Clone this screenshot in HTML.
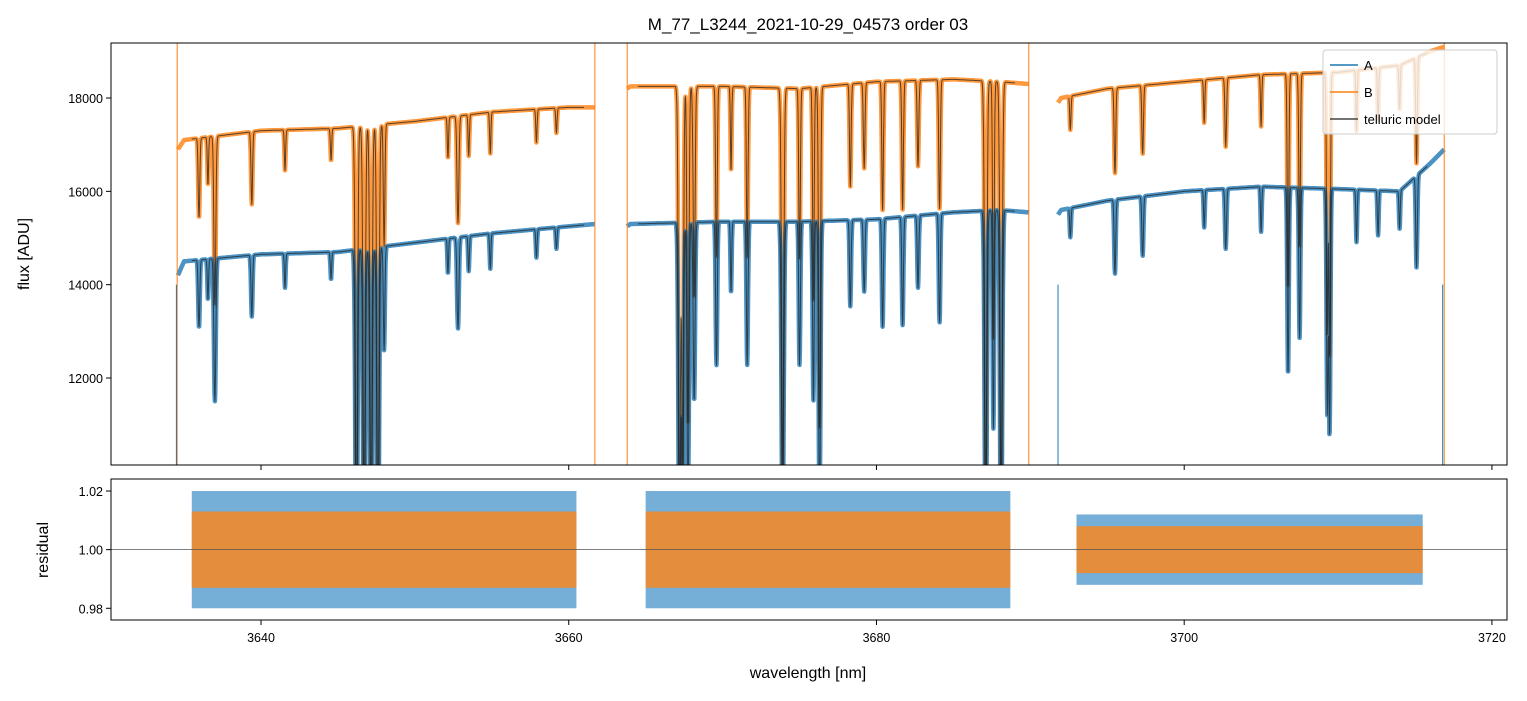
<!DOCTYPE html>
<html><head><meta charset="utf-8"><style>
body{margin:0;background:#fff;}
svg{font-family:"Liberation Sans","DejaVu Sans",sans-serif;}
</style></head><body>
<svg id="c" width="1527" height="696" xmlns="http://www.w3.org/2000/svg">
<defs>
<clipPath id="ct"><rect x="111" y="43" width="1396" height="422"/></clipPath>
<clipPath id="cb"><rect x="111" y="479" width="1396" height="141"/></clipPath>
</defs>
<rect width="1527" height="696" fill="#fff"/>
<text x="808" y="30" text-anchor="middle" font-size="17">M_77_L3244_2021-10-29_04573  order 03</text>
<g id="topg" clip-path="url(#ct)"></g>
<g id="botg" clip-path="url(#cb)"></g>
<g id="axesg"></g>
<text x="29" y="254" transform="rotate(-90 29 254)" text-anchor="middle" font-size="16">flux [ADU]</text>
<text x="48" y="550" transform="rotate(-90 48 550)" text-anchor="middle" font-size="16">residual</text>
<text x="808" y="678" text-anchor="middle" font-size="16">wavelength [nm]</text>
<g id="legend">
<rect x="1323" y="50" width="174" height="84" rx="3" fill="#fff" fill-opacity="0.8" stroke="#ccc"/>
<line x1="1330" y1="65" x2="1358" y2="65" stroke="#1f77b4" stroke-width="1.5"/>
<text x="1364" y="70" font-size="13">A</text>
<line x1="1330" y1="92" x2="1358" y2="92" stroke="#ff7f0e" stroke-width="1.5"/>
<text x="1364" y="97" font-size="13">B</text>
<line x1="1330" y1="119" x2="1358" y2="119" stroke="#444" stroke-width="1.5"/>
<text x="1364" y="124" font-size="13">telluric model</text>
</g>
</svg>
<script>
// ---- data ----
const segments = [[3634.6,3661.7],[3663.8,3689.9],[3691.8,3716.9]];
const modelSegments = [[3635.5,3661.0],[3664.5,3689.0],[3692.5,3715.8]];
const contWave = [3634.6,3635,3640,3645,3650,3655,3660,3661.7,3663.8,3664,3670,3675,3680,3685,3688,3689.9,3691.8,3692,3695,3700,3705,3710,3714,3716,3716.9];
const contA    = [14200,14500,14650,14700,14900,15100,15250,15300,15250,15300,15350,15350,15400,15550,15600,15550,15500,15600,15800,16000,16100,16050,16000,16600,16900];
const contB    = [16900,17100,17300,17350,17500,17700,17800,17800,18200,18250,18250,18200,18350,18400,18350,18300,17900,18000,18200,18350,18500,18550,18700,19000,19100];
const lineWave  = [3635.97,3636.55,3637.0,3639.4,3641.56,3644.55,3646.2,3646.7,3647.15,3647.6,3648.0,3652.15,3652.8,3653.5,3654.9,3657.9,3659.2,3667.2,3667.4,3667.75,3668.15,3669.6,3670.55,3671.6,3673.9,3675.0,3675.9,3676.3,3678.3,3679.2,3680.4,3681.7,3682.7,3684.1,3687.1,3687.6,3688.1,3692.6,3695.5,3697.3,3701.3,3702.7,3705.0,3706.75,3707.5,3709.3,3709.45,3711.2,3712.6,3714.0,3715.1];
const lineDepth = [0.1,0.06,0.21,0.09,0.05,0.04,0.5,0.5,0.5,0.5,0.15,0.05,0.13,0.05,0.05,0.04,0.03,0.5,0.45,0.4,0.25,0.2,0.1,0.2,0.45,0.2,0.25,0.4,0.12,0.1,0.15,0.15,0.1,0.15,0.5,0.3,0.5,0.04,0.1,0.08,0.05,0.08,0.06,0.25,0.2,0.3,0.33,0.07,0.06,0.05,0.12];
const lineWidth = [0.05,0.04,0.06,0.05,0.04,0.04,0.07,0.07,0.07,0.07,0.05,0.04,0.06,0.04,0.04,0.04,0.04,0.07,0.06,0.06,0.06,0.05,0.04,0.05,0.07,0.05,0.05,0.06,0.05,0.05,0.05,0.05,0.05,0.05,0.07,0.05,0.07,0.04,0.05,0.05,0.04,0.05,0.04,0.05,0.05,0.05,0.05,0.04,0.04,0.04,0.05];
const edgeSpikesB = [3634.55,3661.7,3663.8,3689.9,3716.9];
const edgeSpikesA = [3634.5,3691.8,3716.8];
const resSegments = [[3635.5,3660.5],[3665.0,3688.7],[3693.0,3715.5]];
const resAmpA = [0.02,0.02,0.012];
const resAmpB = [0.013,0.013,0.008];
const xTicks = [3640,3660,3680,3700,3720];
const yTicks = [12000,14000,16000,18000];
const rTicks = [0.98,1.00,1.02];
// ---- scales ----
const X=w=>111+(w-3630.25)*(1396/(3720.98-3630.25));
const Y=v=>43+(19179-v)*(422/(19179-10136));
const R=v=>479+(1.0241-v)*(141/(1.0241-0.976));
const NS='http://www.w3.org/2000/svg';
function mk(tag,attrs,parent){const e=document.createElementNS(NS,tag);for(const k in attrs)e.setAttribute(k,attrs[k]);parent.appendChild(e);return e;}
function interp(xs,ys,x){if(x<=xs[0])return ys[0];for(let i=1;i<xs.length;i++){if(x<=xs[i]){const t=(x-xs[i-1])/(xs[i]-xs[i-1]);return ys[i-1]+t*(ys[i]-ys[i-1]);}}return ys[ys.length-1];}
function trans(w){let f=1;for(let i=0;i<lineWave.length;i++){const d=(w-lineWave[i])/lineWidth[i];if(Math.abs(d)<6)f*=1-lineDepth[i]*Math.exp(-0.5*d*d);}return f;}
const topG=document.getElementById('topg'),botG=document.getElementById('botg'),axG=document.getElementById('axesg');
function drawSeries(segs,cont,color,width,op,name){
  segs.forEach(([a,b])=>{let d='';for(let w=a;w<=b;w+=0.02){d+=(d?'L':'M')+X(w).toFixed(1)+','+Y(interp(contWave,cont,w)*trans(w)).toFixed(1);}
  const p=mk('path',{d:d,fill:'none',stroke:color,'stroke-width':width,'stroke-opacity':op,'stroke-linejoin':'round'},topG);
  
  });
}
drawSeries(segments,contB,'#ff7f0e',4.5,0.8,'series-b');
drawSeries(segments,contA,'#1f77b4',4.5,0.8,'series-a');
edgeSpikesB.forEach(w=>{const l=mk('line',{x1:X(w),x2:X(w),y1:43,y2:465,stroke:'#ff7f0e','stroke-width':1},topG);

});
edgeSpikesA.forEach(w=>{const l=mk('line',{x1:X(w),x2:X(w),y1:Y(14000),y2:465,stroke:'#1f77b4','stroke-width':1},topG);

});
drawSeries(modelSegments,contB,'#222',1,0.75,'telluric-model-b');
drawSeries(modelSegments,contA,'#222',1,0.75,'telluric-model-a');
resSegments.forEach(([a,b],i)=>{
  const ra=mk('rect',{x:X(a),width:X(b)-X(a),y:R(1+resAmpA[i]),height:R(1-resAmpA[i])-R(1+resAmpA[i]),fill:'#3a8cc4','fill-opacity':0.7},botG);
  
  
  const rb=mk('rect',{x:X(a),width:X(b)-X(a),y:R(1+resAmpB[i]),height:R(1-resAmpB[i])-R(1+resAmpB[i]),fill:'#ef8a2c','fill-opacity':0.9},botG);
  
  
});
mk('line',{x1:111,x2:1507,y1:R(1),y2:R(1),stroke:'#555','stroke-width':0.8},botG);
mk('rect',{x:111,y:43,width:1396,height:422,fill:'none',stroke:'#000','stroke-width':1},axG);
mk('rect',{x:111,y:479,width:1396,height:141,fill:'none',stroke:'#000','stroke-width':1},axG);
xTicks.forEach(t=>{const x=X(t);
  mk('line',{x1:x,x2:x,y1:465,y2:470,stroke:'#000'},axG);
  mk('line',{x1:x,x2:x,y1:620,y2:625,stroke:'#000'},axG);
  const tx=mk('text',{x:x,y:642,'text-anchor':'middle','font-size':12.5},axG);tx.textContent=t;
  
  });
yTicks.forEach(t=>{const y=Y(t);
  mk('line',{x1:106,x2:111,y1:y,y2:y,stroke:'#000'},axG);
  const tx=mk('text',{x:103,y:y+5,'text-anchor':'end','font-size':12.5},axG);tx.textContent=t;
  
  });
rTicks.forEach(t=>{const y=R(t);
  mk('line',{x1:106,x2:111,y1:y,y2:y,stroke:'#000'},axG);
  const tx=mk('text',{x:103,y:y+5,'text-anchor':'end','font-size':12.5},axG);tx.textContent=t.toFixed(2);
  
  });
document.getElementById('c').appendChild(document.getElementById('legend'));
</script>
</body></html>
